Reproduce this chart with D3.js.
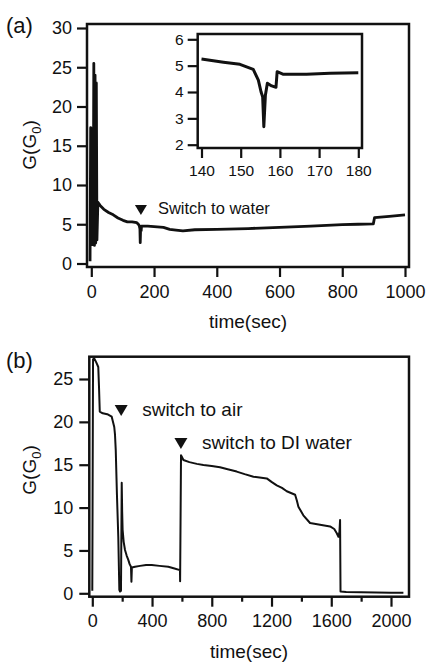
<!DOCTYPE html>
<html>
<head>
<meta charset="utf-8">
<script src="https://cdn.jsdelivr.net/npm/d3@7"></script>
<style>
  html, body { margin: 0; padding: 0; background: #fff; }
  svg { display: block; }
  text { font-family: "Liberation Sans", Arial, Helvetica, sans-serif; fill: #111; font-weight: normal; }
</style>
</head>
<body>
<svg id="chart" width="428" height="664"></svg>
<script>
// ---------- DATA ----------
// Panel (a): main trace, time (sec) vs G (G0)
const timeA = [-4, -2, -1, 1, 3, 4, 6, 8, 10, 12, 14, 16, 18, 21, 28, 40, 55, 70, 85, 101, 115, 130, 145, 150, 153, 155, 156, 157, 159, 160, 180, 200, 230, 250, 270, 292, 330, 400, 500, 600, 700, 800, 850, 899, 903, 950, 1000];
const gA    = [0.3, 17.3, 3, 17.2, 2.4, 17, 2.5, 25.5, 2.3, 24, 2.6, 23, 3.0, 7.8, 7.4, 6.9, 6.5, 6.2, 5.8, 5.5, 5.3, 5.3, 5.2, 5.0, 4.8, 4.4, 2.65, 4.2, 4.2, 4.75, 4.75, 4.7, 4.6, 4.35, 4.25, 4.15, 4.3, 4.35, 4.45, 4.6, 4.75, 4.95, 5.0, 5.05, 5.85, 6.0, 6.2];
// Panel (a) inset: zoom of 140-180 s
const timeInset = [140, 145.6, 149.8, 153.2, 154.5, 155.2, 155.6, 155.9, 156.3, 156.8, 157.9, 159, 159.3, 160.9, 166.8, 172.8, 180];
const gInset    = [5.25, 5.13, 5.05, 4.86, 4.45, 4.0, 3.82, 2.68, 3.88, 4.33, 4.23, 4.18, 4.77, 4.67, 4.67, 4.71, 4.73];
// Panel (b): trace
const timeB = [0, 5, 13, 25, 40, 45, 50, 70, 100, 130, 147, 152, 157, 165, 174, 181, 186, 192, 197, 200, 203, 210, 219, 230, 241, 250, 259, 262, 265, 286, 320, 360, 398, 450, 509, 550, 587, 588, 594, 610, 650, 700, 744, 800, 855, 900, 967, 1020, 1079, 1120, 1168, 1200, 1235, 1270, 1302, 1358, 1370, 1380, 1413, 1458, 1525, 1592, 1620, 1637, 1648, 1655, 1659, 1662, 1700, 1800, 1900, 2000, 2083];
const gB    = [0.3, 27.3, 27.4, 27.0, 26.4, 24, 21.2, 21.0, 20.9, 20.6, 19.4, 18.5, 16.7, 11.5, 6.6, 0.4, 0.2, 0.3, 12.9, 9.5, 7.4, 6.0, 5.05, 4.4, 3.9, 3.4, 3.1, 1.35, 3.0, 3.1, 3.2, 3.3, 3.3, 3.2, 3.1, 2.9, 2.7, 1.4, 16.1, 15.55, 15.3, 15.1, 14.97, 14.85, 14.7, 14.5, 14.2, 13.9, 13.6, 13.5, 13.4, 13.0, 12.6, 12.3, 11.9, 11.5, 10.8, 10.1, 9.1, 8.2, 8.0, 7.8, 7.5, 7.0, 6.6, 7.2, 8.55, 0.2, 0.15, 0.12, 0.1, 0.05, 0.05];

// Tick values
const ticksAx = [0, 200, 400, 600, 800, 1000];
const ticksAy = [0, 5, 10, 15, 20, 25, 30];
const ticksInsetX = [140, 150, 160, 170, 180];
const ticksInsetY = [2, 3, 4, 5, 6];
const ticksBx = [0, 400, 800, 1200, 1600, 2000];
const ticksBxMinor = [200, 600, 1000, 1400, 1800];
const ticksBy = [0, 5, 10, 15, 20, 25];

// Annotations
const annA = [{ t: 155, label: "Switch to water" }];
const annB = [{ t: 180, label: "switch to air" }, { t: 580, label: "switch to DI water" }];

// ---------- DRAW ----------
const svg = d3.select("#chart");

function zip(xs, ys) { return xs.map((x, i) => [x, ys[i]]); }

function panel(opts) {
  const g = svg.append("g");
  const x = d3.scaleLinear().domain(opts.xDom).range(opts.xRange);
  const y = d3.scaleLinear().domain(opts.yDom).range(opts.yRange);
  const f = opts.frame; // [left, top, right, bottom]
  const id = "clip" + opts.name;
  svg.append("clipPath").attr("id", id).append("rect")
    .attr("x", f[0]).attr("y", f[1]).attr("width", f[2] - f[0]).attr("height", f[3] - f[1]);

  // axes
  const ax = d3.axisBottom(x).tickValues(opts.xTicks).tickSize(opts.tickLen).tickPadding(opts.xPad).tickFormat(d3.format("d"));
  const gx = g.append("g").attr("transform", `translate(0,${f[3]})`).call(ax);
  const ay = d3.axisLeft(y).tickValues(opts.yTicks).tickSize(opts.tickLen).tickPadding(opts.yPad).tickFormat(d3.format("d"));
  const gy = g.append("g").attr("transform", `translate(${f[0]},0)`).call(ay);
  [gx, gy].forEach(a => {
    a.select(".domain").remove();
    a.selectAll(".tick line").attr("stroke", "#111").attr("stroke-width", 2.2);
    a.selectAll(".tick text").attr("font-size", opts.fontSize).attr("fill", "#111")
      .style("font-family", '"Liberation Sans", Arial, sans-serif');
  });
  if (opts.xMinor) {
    const am = d3.axisBottom(x).tickValues(opts.xMinor).tickSize(opts.tickLen / 2).tickFormat("");
    const gm = g.append("g").attr("transform", `translate(0,${f[3]})`).call(am);
    gm.select(".domain").remove();
    gm.selectAll(".tick line").attr("stroke", "#111").attr("stroke-width", 2.2);
  }

  // data
  const line = d3.line().x(d => x(d[0])).y(d => y(d[1]));
  g.append("path").datum(opts.data).attr("clip-path", `url(#${id})`)
    .attr("fill", "none").attr("stroke", "#111").attr("stroke-width", opts.lineW)
    .attr("stroke-linejoin", "round").attr("d", line);

  // frame
  g.append("rect").attr("x", f[0]).attr("y", f[1]).attr("width", f[2] - f[0]).attr("height", f[3] - f[1])
    .attr("fill", "none").attr("stroke", "#111").attr("stroke-width", opts.frameW);
  return { g, x, y };
}

// Panel (a)
const pa = panel({
  name: "a",
  xDom: [0, 1000], xRange: [91.3, 405], yDom: [0, 30], yRange: [263.5, 28],
  frame: [87, 24, 409, 267], xTicks: ticksAx, yTicks: ticksAy, tickLen: 10,
  xPad: 8, yPad: 5, fontSize: 18, data: zip(timeA, gA), lineW: 2.8, frameW: 2.5
});
// Inset background
svg.append("rect").attr("x", 197.7).attr("y", 34).attr("width", 362 - 197.7).attr("height", 148 - 34).attr("fill", "#fff");
const pi = panel({
  name: "inset",
  xDom: [140, 180], xRange: [201.5, 358.3], yDom: [2, 6], yRange: [144.7, 39.3],
  frame: [197.7, 34, 362, 148], xTicks: ticksInsetX, yTicks: ticksInsetY, tickLen: 10,
  xPad: 7, yPad: 4, fontSize: 15.5, data: zip(timeInset, gInset), lineW: 3, frameW: 2.5
});
// Panel (b)
const pb = panel({
  name: "b",
  xDom: [0, 2000], xRange: [92.3, 391], yDom: [0, 25], yRange: [593.3, 379],
  frame: [89.3, 356.7, 409, 596.7], xTicks: ticksBx, yTicks: ticksBy, xMinor: ticksBxMinor, tickLen: 10,
  xPad: 8, yPad: 6, fontSize: 18, data: zip(timeB, gB), lineW: 2, frameW: 2.5
});

// Annotations (triangles + labels)
function tri(cx, top, w, h) {
  return `M${cx - w / 2},${top}L${cx + w / 2},${top}L${cx},${top + h}Z`;
}
annA.forEach(a => {
  const cx = pa.x(a.t) + 1;
  svg.append("path").attr("d", tri(cx, 205, 12, 10)).attr("fill", "#111");
  svg.append("text").attr("x", cx + 17).attr("y", 214).attr("font-size", 16.5).text(a.label);
});
const annBy = [405, 438];
annB.forEach((a, i) => {
  const cx = pb.x(a.t) + 2;
  svg.append("path").attr("d", tri(cx, annBy[i], 13, 11)).attr("fill", "#111");
  svg.append("text").attr("x", cx + 21).attr("y", annBy[i] + 11).attr("font-size", 19).text(a.label);
});

// Axis titles and panel labels
svg.append("text").attr("x", 248).attr("y", 328).attr("text-anchor", "middle").attr("font-size", 19).text("time(sec)");
svg.append("text").attr("x", 249).attr("y", 658).attr("text-anchor", "middle").attr("font-size", 19).text("time(sec)");

function yTitle(cx, cy) {
  const t = svg.append("text").attr("transform", `translate(${cx},${cy}) rotate(-90)`)
    .attr("text-anchor", "middle").attr("font-size", 19);
  t.append("tspan").text("G(G");
  t.append("tspan").attr("font-size", 13).attr("dy", 5).text("0");
  t.append("tspan").attr("dy", -5).text(")");
}
yTitle(36, 145);
yTitle(36, 470);

svg.append("text").attr("x", 6).attr("y", 33).attr("font-size", 22).text("(a)");
svg.append("text").attr("x", 6).attr("y", 368).attr("font-size", 22).text("(b)");
</script>
</body>
</html>
